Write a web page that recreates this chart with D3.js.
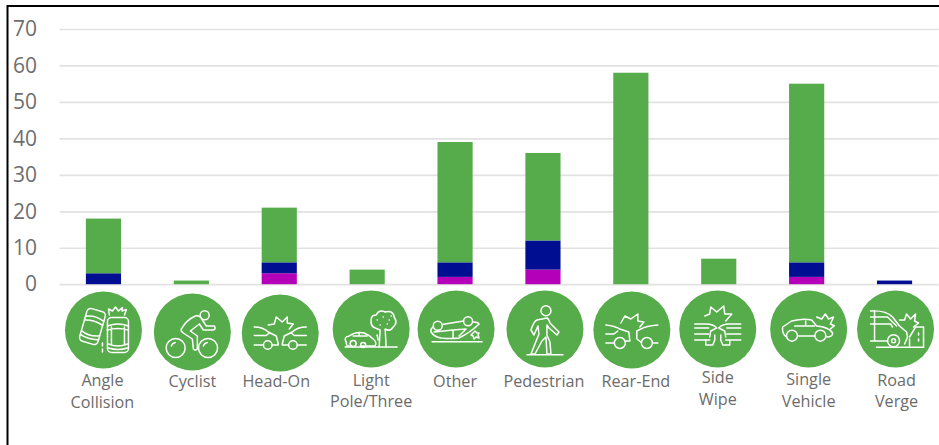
<!DOCTYPE html>
<html>
<head>
<meta charset="utf-8">
<script src="https://cdn.jsdelivr.net/npm/d3@7"></script>
<style>
  html, body { margin: 0; padding: 0; background: #fff; }
  svg { display: block; }
  text { font-family: "Open Sans", sans-serif; }
</style>
</head>
<body>
<svg id="chart"></svg>
<script>
const width = 939, height = 445;

const categories = ["Angle Collision", "Cyclist", "Head-On", "Light Pole/Three", "Other",
  "Pedestrian", "Rear-End", "Side Wipe", "Single Vehicle", "Road Verge"];
const labelLines = [["Angle", "Collision"], ["Cyclist"], ["Head-On"], ["Light", "Pole/Three"], ["Other"],
  ["Pedestrian"], ["Rear-End"], ["Side", "Wipe"], ["Single", "Vehicle"], ["Road", "Verge"]];

// stacked from the axis upwards
const magentaValues = [0, 0, 3, 0, 2, 4, 0, 0, 2, 0];
const navyValues = [3, 0, 3, 0, 4, 8, 0, 0, 4, 1];
const greenValues = [15, 1, 15, 4, 33, 24, 58, 7, 49, 0];

const yTicks = [0, 10, 20, 30, 40, 50, 60, 70];

const seriesKeys = ["magenta", "navy", "green"];
const seriesColors = { magenta: "#b500b9", navy: "#000f91", green: "#56ab4a" };

// the icons sit a little off the band centres
const iconDx = [0, 1, 1, 4, 1, 2, 1, -1, 2, 1];
const iconY = [330, 332, 333, 329, 329, 329, 330, 329, 329, 329];
const labelDx = [-1, 1, -3, 4, 0, 1, 5, -1, 2, 2];
const labelY = [386, 387, 387, 385.5, 387, 387, 387, 383, 385, 385.5];

const starHeadOn = "M-12-8-6-9-4-16 2-11 7-16 7-10 13-9 9-4";
const icons = [
  // angle collision
  `<rect x="4" y="-12.5" width="21" height="35" rx="4"/>
   <path d="M4-4Q14.500-8 25-4M4 0Q14.500-3 25 0M5 14Q14.500 18 24 14M5 18Q14.500 21 24 18M8-3V14M21-3V14"/>
   <path d="M6-15 5-21 9-19 12-23 15-19 19-22.500 18.500-19 23-20.500 21-15"/>
   <g transform="translate(-11 -3.500) rotate(16)">
     <rect x="-9.500" y="-17" width="19" height="34" rx="4"/>
     <path d="M-9.500-8Q0-12 9.500-8M-9.500-4Q0-7 9.500-4M-9.500 7Q0 11 9.500 7M-9.500 11Q0 14 9.500 11"/>
   </g>
   <path d="M-1 13V16M-1 19V22"/>`,
  // cyclist
  `<circle cx="12.300" cy="-16.700" r="4.500"/>
   <circle cx="-16.700" cy="16" r="9.500"/><circle cx="15.700" cy="16" r="9.500"/>
   <path d="M-21 14Q-20 11-17 10.500M11 14Q12 11 15 10.500"/>
   <path d="M-11-3Q-6-12 3-16Q8-17 10-12L14-6H22Q24-3 21-2H11L7-8-2-1 5 4V17Q3 19 1 17L0 7-9 1Q-12-1-11-3Z"/>`,
  // head-on
  `<path d="${starHeadOn}"/>
   <path d="M-26-6Q-17-6-12-1L-4 3 -2 11M26-6Q17-6 12-1L4 3 2 11"/>
   <path d="M-26 2.500H-14L-11 0M26 2.500H14L11 0"/>
   <path d="M-26 12H-17M-8 12H-2M26 12H17M8 12H2"/>
   <circle cx="-12.500" cy="12" r="4.300"/><circle cx="12.700" cy="12" r="4.300"/>`,
  // light pole / tree
  `<path d="M-26 18H26"/>
   <path d="M8 18 9 1 4-1Q-1-3 0-9Q0-14 5-14Q8-20 14-17Q22-19 23-12Q27-6 22-2Q19 3 14 0L15 18"/>
   <path d="M6-9h.1M12-12h.1M18-9h.1M9-4h.1M16-5h.1M20-13h.1"/>
   <path d="M-25 13Q-28 8-22 7Q-15 2-7 4Q-2 6 2 10Q6 13 4 17H-11M-22 17H-24Q-25 15-25 13"/>
   <path d="M-18 7H-4M-12 3.500V7"/>
   <circle cx="-18" cy="14.500" r="3"/><circle cx="-8" cy="16" r="2.500"/>
   <path d="M6 6 7 11"/>`,
  // other: overturned car
  `<path d="M-24 12.700H26"/>
   <circle cx="-18.300" cy="-3.300" r="4.500"/><circle cx="12" cy="-7.700" r="4.500"/>
   <path d="M-14-4.500 7.500-8"/>
   <path d="M-23-2Q-26 0-25 3Q-22 8-15 9Q-5 10 3 9Q15 3 23-5Q22-7 17-7M-22 3-3 1 -3 9M-3 1 10 0 3 7"/>
   <path d="M17 4 19 2 21 4 23 4 22 6 23 9 20 8 18 10 17 7 15 6Z"/>`,
  // pedestrian
  `<circle cx="1" cy="-18.300" r="5"/>
   <path d="M-18 25.700H18"/>
   <path d="M2-11-8-9Q-11-8-14 1L-11 6-7-3-6 5-14 25H-10L-3 12 1 8 2 25H6L5 13 2 6 2-4 4-1 12 6 14 3 5-6Q4-10 2-11Z"/>`,
  // rear-end
  `<path d="M-11-7-7-14-1-11 6-16 6-9 12-8 8-3"/>
   <path d="M-26-5Q-17-4-12-1L-3 2-2 11H-6M-26 4H-18L-14 1"/>
   <path d="M-26 13H-18M26 13H21M26-5Q14-4 9-1L5 1V9L9 12"/>
   <circle cx="-12" cy="13" r="5.500"/><circle cx="15" cy="13" r="5.500"/>`,
  // side wipe
  `<path d="M-13-13-8-15-7-22-1-17 6-23 7-15 14-15 8-8"/>
   <path d="M-23-5H-11Q-5-5-1-1L-7 2-8 8M23-5H11Q5-5 1-1L7 2 8 8"/>
   <path d="M-23-1H-9M23-1H9M-23 5H-9M23 5H9M-23 11H-8M23 11H8"/>
   <path d="M-12 11V16H-5L-3 11V6M12 11V16H5L3 11V6"/>`,
  // single vehicle
  `<path d="M-22 8Q-27 5-26-2L-17-8Q-5-11 3-9L8-3Q20-2 24 4Q24 8 18 8M-11 7H6"/>
   <path d="M-14-3H6M-3-8V-3"/>
   <circle cx="-16.700" cy="6.700" r="5.500"/><circle cx="11.700" cy="6.700" r="5.500"/>
   <path d="M8-12 13-10 16.700-15 20-10 25-12 21.700-5 25.700-3.300 21.700 0"/>`,
  // road verge
  `<path d="M-25-18Q-10-19-3-12L4-3 11 3 12 8 9 15M-25-12H-8L1-3M-25-5H-5L-3-2"/>
   <path d="M-21-18V12M-25 12H-8M-19 18.300H28"/>
   <circle cx="-2" cy="11.700" r="6"/><circle cx="-2" cy="11.700" r="2"/>
   <path d="M14 8 20-2H28V18.300M14 18V10M23 4V6M23 10V12"/>
   <path d="M4-9 9-9 11-15 15-10 20-15 19-8 23-6 18-2"/>`
];

const svg = d3.select("#chart").attr("width", width).attr("height", height);

const xScale = d3.scaleBand().domain(categories).range([59.5, 938.5])
  .paddingInner(0.6).paddingOuter(0.3);
const yScale = d3.scaleLinear().domain([0, 70]).range([284.2, 29]);

// outer frame, only the top and left edges show
svg.append("path")
  .attr("d", `M${width} 6H7.500V${height}`)
  .attr("fill", "none")
  .attr("stroke", "#000")
  .attr("stroke-width", 2);

// gridlines and tick labels
const yAxis = svg.append("g")
  .attr("transform", "translate(59.5,0)")
  .call(d3.axisLeft(yScale).tickValues(yTicks).tickSize(-879).tickPadding(22.5));
yAxis.select(".domain").remove();
yAxis.selectAll(".tick line").attr("stroke", "#e2e2e2").attr("stroke-width", 1.700);
yAxis.selectAll(".tick text")
  .attr("font-size", 21)
  .attr("font-family", "'Open Sans', sans-serif")
  .attr("fill", "#6e6e6e");

const table = categories.map((c, i) => ({
  category: c, magenta: magentaValues[i], navy: navyValues[i], green: greenValues[i]
}));
const stacked = d3.stack().keys(seriesKeys)(table);

svg.append("g").selectAll("g")
  .data(stacked)
  .join("g")
  .attr("fill", d => seriesColors[d.key])
  .selectAll("rect")
  .data(d => d)
  .join("rect")
  .attr("x", d => xScale(d.data.category))
  .attr("width", xScale.bandwidth())
  .attr("y", d => yScale(d[1]))
  .attr("height", d => yScale(d[0]) - yScale(d[1]));

// category badges
const center = c => xScale(c) + xScale.bandwidth() / 2;
const badges = svg.append("g").selectAll("g")
  .data(categories)
  .join("g")
  .attr("transform", (c, i) => `translate(${center(c) + iconDx[i]},${iconY[i]})`);
badges.append("circle").attr("r", 38.500).attr("fill", "#56ab4a");
badges.append("g")
  .attr("fill", "none")
  .attr("stroke", "#fff")
  .attr("stroke-width", 1.500)
  .attr("stroke-linejoin", "round")
  .attr("stroke-linecap", "round")
  .html((c, i) => icons[i]);

// category labels, one or two lines
svg.append("g").selectAll("text")
  .data(categories)
  .join("text")
  .attr("text-anchor", "middle")
  .attr("font-size", 16.200)
  .attr("fill", "#6b6b6b")
  .attr("transform", (c, i) => `translate(${center(c) + labelDx[i]},${labelY[i]})`)
  .each(function (c, i) {
    d3.select(this).selectAll("tspan")
      .data(labelLines[i])
      .join("tspan")
      .attr("x", 0)
      .attr("y", (l, j) => j * 21.7)
      .text(l => l);
  });
</script>
</body>
</html>
